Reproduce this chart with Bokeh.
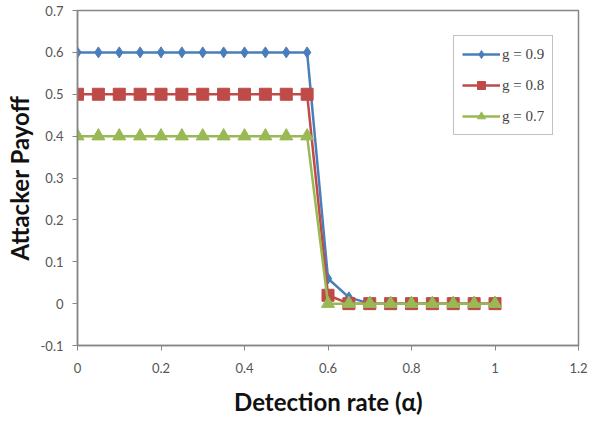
from bokeh.plotting import figure
from bokeh.models import Range1d, FixedTicker, CustomJSTickFormatter, Legend, LegendItem
from bokeh.embed import file_html
from bokeh.resources import INLINE

alpha = [0.0, 0.05, 0.1, 0.15, 0.2, 0.25, 0.3, 0.35, 0.4, 0.45, 0.5, 0.55,
         0.6, 0.65, 0.7, 0.75, 0.8, 0.85, 0.9, 0.95, 1.0]
payoff_g09 = [0.6] * 12 + [0.06, 0.015, 0.0, 0.0, 0.0, 0.0, 0.0, 0.0, 0.0]
payoff_g08 = [0.5] * 12 + [0.02, 0.0, 0.0, 0.0, 0.0, 0.0, 0.0, 0.0, 0.0]
payoff_g07 = [0.4] * 12 + [0.0, 0.0, 0.0, 0.0, 0.0, 0.0, 0.0, 0.0, 0.0]
labels = ["g = 0.9", "g = 0.8", "g = 0.7"]
x_ticks = [0, 0.2, 0.4, 0.6, 0.8, 1.0, 1.2]
y_ticks = [-0.1, 0, 0.1, 0.2, 0.3, 0.4, 0.5, 0.6, 0.7]

p = figure(output_backend="svg", toolbar_location=None,
           x_range=Range1d(0, 1.2), y_range=Range1d(-0.1, 0.7),
           min_border_left=77, min_border_right=16, min_border_top=10, min_border_bottom=77,
           frame_width=501, frame_height=335)
p.grid.visible = False
p.outline_line_color = "#868686"
p.outline_line_width = 1.5
p.background_fill_color = "white"
p.border_fill_color = "white"

fmt = CustomJSTickFormatter(code="return (Math.round(tick*10)/10).toString();")
for ax, ticks in ((p.xaxis, x_ticks), (p.yaxis, y_ticks)):
    ax.ticker = FixedTicker(ticks=ticks)
    ax.formatter = fmt
    ax.axis_line_color = "#868686"
    ax.axis_line_width = 1.5
    ax.major_tick_line_color = "#868686"
    ax.major_tick_out = 5
    ax.major_tick_in = 0
    ax.minor_tick_line_color = None
    ax.major_label_text_font = "Lato"
    ax.major_label_text_font_size = "13px"
    ax.major_label_text_color = "#555555"
    ax.axis_label_text_font = "Lato"
    ax.axis_label_text_font_size = "24px"
    ax.axis_label_text_font_style = "bold"
    ax.axis_label_text_color = "#111111"

p.xaxis.axis_label = "Detection rate (\u03b1)"
p.yaxis.axis_label = "Attacker Payoff"
p.xaxis.major_label_standoff = 12
p.yaxis.major_label_standoff = 9
p.xaxis.axis_label_standoff = 11
p.yaxis.axis_label_standoff = 4

colors = ["#4a7ebb", "#be4b48", "#98b954"]
markers = ["diamond", "square", "triangle"]
sizes = [11, 12, 13]
series = [payoff_g09, payoff_g08, payoff_g07]
items = []
for ys, c, m, s, lab in zip(series, colors, markers, sizes, labels):
    l = p.line(alpha, ys, line_color=c, line_width=2.5)
    sc = p.scatter(alpha, ys, marker=m, size=s, fill_color=c, line_color=c)
    items.append(LegendItem(label=lab, renderers=[l, sc]))

legend = Legend(items=items, location=(376, 210), border_line_color="#868686",
                border_line_width=1.5, padding=8, spacing=11, glyph_width=38,
                glyph_height=20, label_height=20, label_text_font="Liberation Serif",
                label_text_font_size="15px", label_standoff=2, margin=0,
                background_fill_alpha=1.0)
p.add_layout(legend, "center")

open("out.html", "w").write(file_html(p, INLINE))
